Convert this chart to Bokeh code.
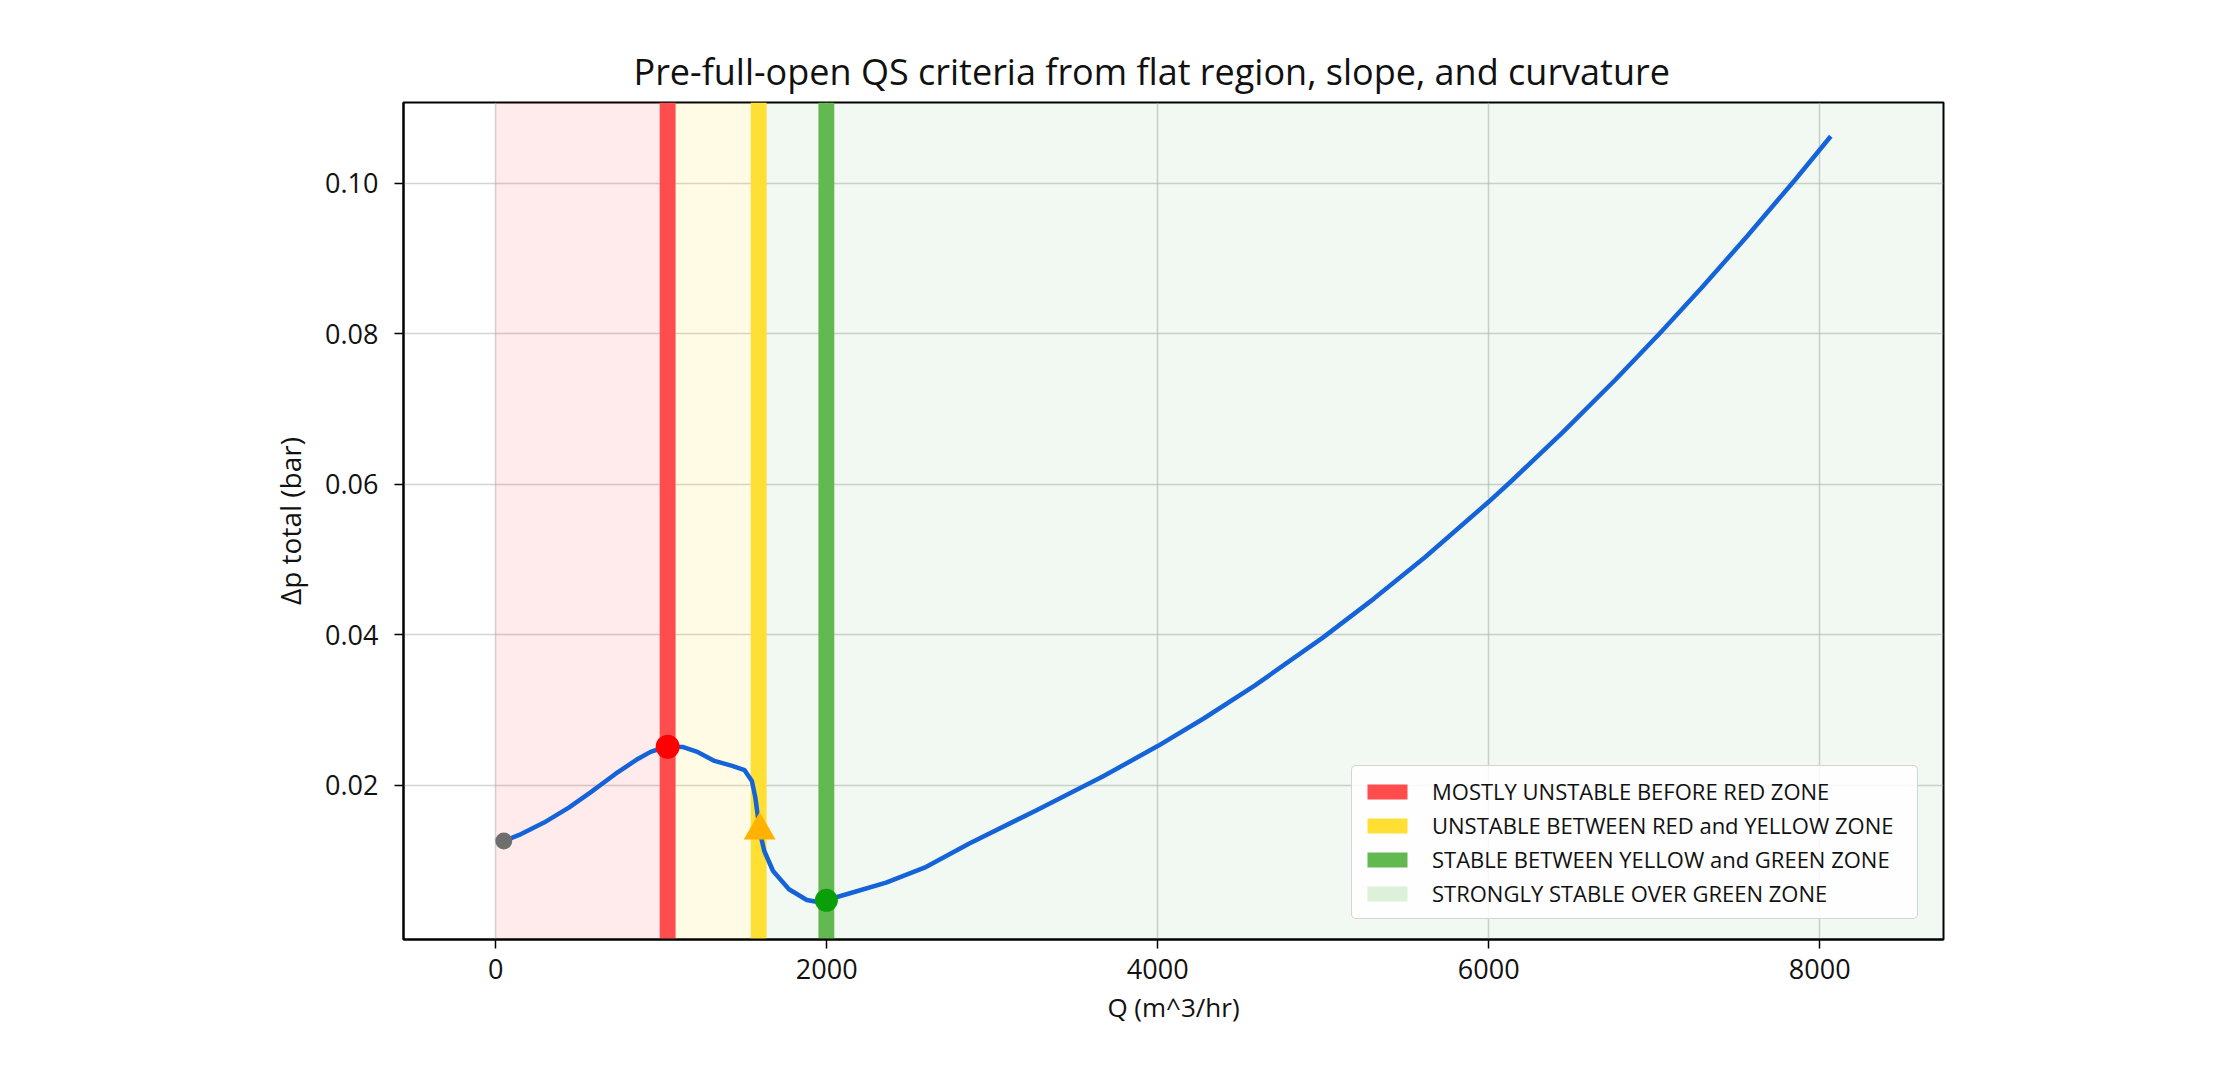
import numpy as np
from bokeh.plotting import figure
from bokeh.models import (Range1d, FixedTicker, PrintfTickFormatter, Legend,
                          LegendItem, BoxAnnotation)
from bokeh.embed import file_html
from bokeh.resources import INLINE

# ---------------- data ----------------
q_vals = [49, 142, 292, 442, 571, 721, 850, 936, 1034, 1129, 1214, 1322, 1429,
          1504, 1548, 1569, 1597, 1623, 1676, 1772, 1880, 1930, 1998, 2151,
          2359, 2591, 2862, 3265, 3668, 4000, 4278, 4586, 4998, 5307, 5615,
          6000, 6136, 6450, 6764, 7037, 7288, 7560, 7853, 8067]
dp_vals = [0.01259, 0.01339, 0.01503, 0.01702, 0.01902, 0.02146, 0.02337,
           0.02443, 0.02514, 0.02509, 0.02447, 0.02323, 0.02257, 0.02200,
           0.02057, 0.01835, 0.01370, 0.01126, 0.00860, 0.00617, 0.00475,
           0.00455, 0.00472, 0.00571, 0.00705, 0.00904, 0.01225, 0.01665,
           0.02115, 0.02520, 0.02886, 0.03323, 0.03961, 0.04479, 0.05029,
           0.05765, 0.06038, 0.06693, 0.07383, 0.08011, 0.08612, 0.09289,
           0.10048, 0.10622]

start_q, start_dp = [49], [0.0126]
red_q, red_dp = [1039], [0.0251]
yellow_q, yellow_dp = [1595], [0.0140]
green_q, green_dp = [1998], [0.0047]

zone_start = 0
band_centers = [1039, 1589, 1998]
band_half_width = 48

x_start, x_end = -557, 8748
y_start, y_end = -0.0005, 0.1107
x_ticks = [0, 2000, 4000, 6000, 8000]
y_ticks = [0.02, 0.04, 0.06, 0.08, 0.10]

legend_labels = ["MOSTLY UNSTABLE BEFORE RED ZONE",
                 "UNSTABLE BETWEEN RED and YELLOW ZONE",
                 "STABLE BETWEEN YELLOW and GREEN ZONE",
                 "STRONGLY STABLE OVER GREEN ZONE"]
band_colors = ["#ff4d4d", "#ffdf33", "#62b94f"]
strong_swatch_color = "#dcf0da"

title_text = "Pre-full-open QS criteria from flat region, slope, and curvature"
x_label = "Q (m^3/hr)"
y_label = "\u0394p total (bar)"

FONT = "Open Sans"

# ---------------- figure ----------------
p = figure(width=2220, height=1050,
           x_range=Range1d(x_start, x_end), y_range=Range1d(y_start, y_end),
           output_backend="svg", toolbar_location=None,
           min_border_left=403, min_border_right=277,
           min_border_top=102, min_border_bottom=111,
           title=title_text)
p.background_fill_color = "white"
p.border_fill_color = "white"
p.outline_line_color = "black"
p.outline_line_width = 2

p.title.text_font = FONT
p.title.text_font_size = "36px"
p.title.text_font_style = "normal"
p.title.align = "left"
p.title.offset = 230
p.title.text_color = "#111111"
p.title.standoff = 14

for ax in (p.xaxis[0], p.yaxis[0]):
    ax.axis_line_width = 2
    ax.axis_line_color = "black"
    ax.major_tick_line_width = 1.5
    ax.major_tick_line_color = "black"
    ax.major_tick_out = 9
    ax.major_tick_in = 0
    ax.minor_tick_line_color = None
    ax.major_label_text_font = FONT
    ax.major_label_text_font_size = "27px"
    ax.major_label_text_color = "#111111"
    ax.axis_label_text_font = FONT
    ax.axis_label_text_font_style = "normal"
    ax.axis_label_text_color = "#111111"

p.xaxis.axis_label_text_font_size = "26px"
p.yaxis.axis_label_text_font_size = "28px"
p.xaxis.ticker = FixedTicker(ticks=x_ticks)
p.yaxis.ticker = FixedTicker(ticks=y_ticks)
p.xaxis.formatter = PrintfTickFormatter(format="%d")
p.yaxis.formatter = PrintfTickFormatter(format="%.2f")
p.xaxis.axis_label = x_label
p.yaxis.axis_label = y_label
p.xaxis.major_label_standoff = 10
p.yaxis.major_label_standoff = 16
p.xaxis.axis_label_standoff = 7
p.yaxis.axis_label_standoff = 13

p.grid.grid_line_color = "#b0b0b0"
p.grid.grid_line_alpha = 0.55
p.grid.grid_line_width = 1.5

# ---------------- zones ----------------
p.add_layout(BoxAnnotation(left=zone_start, right=band_centers[0],
                           fill_color="red", fill_alpha=0.08, line_color=None,
                           level="underlay"))
p.add_layout(BoxAnnotation(left=band_centers[0], right=band_centers[1],
                           fill_color="#FFD700", fill_alpha=0.1, line_color=None,
                           level="underlay"))
p.add_layout(BoxAnnotation(left=band_centers[1],
                           fill_color="green", fill_alpha=0.05, line_color=None,
                           level="underlay"))

band_renderers = []
for c, col in zip(band_centers, band_colors):
    r = p.quad(left=[c - band_half_width], right=[c + band_half_width],
               bottom=[y_start], top=[y_end],
               fill_color=col, fill_alpha=1.0, line_color=None)
    band_renderers.append(r)

# legend-only handle for the strongly stable zone (no visible mark)
strong_handle = p.quad(left=[np.nan], right=[np.nan], bottom=[np.nan],
                       top=[np.nan], fill_color=strong_swatch_color,
                       line_color=None)

# ---------------- curve & markers ----------------
p.line(q_vals, dp_vals, line_color="#1463d8", line_width=4.5,
       line_join="round")
p.scatter(start_q, start_dp, marker="circle", size=17, fill_color="#6e6e6e",
          line_color=None)
p.scatter(red_q, red_dp, marker="circle", size=24, fill_color="#ff0000",
          line_color=None)
p.scatter(yellow_q, yellow_dp, marker="triangle", size=32, fill_color="#ffb300",
          line_color=None)
p.scatter(green_q, green_dp, marker="circle", size=23, fill_color="#0a9e0a",
          line_color=None)

# ---------------- legend ----------------
items = [LegendItem(label=lab, renderers=[r])
         for lab, r in zip(legend_labels, band_renderers + [strong_handle])]

legend = Legend(items=items, location=(948, 20))
legend.label_text_font = FONT
legend.label_text_font_size = "22px"
legend.label_text_color = "#111111"
legend.glyph_width = 50
legend.glyph_height = 19
legend.label_height = 26
legend.label_width = 475
legend.label_standoff = 20
legend.spacing = 4
legend.padding = 10
legend.margin = 0
legend.border_line_color = "#aaaaaa"
legend.border_line_width = 1.5
legend.border_radius = 5
legend.background_fill_color = "white"
legend.background_fill_alpha = 0.85
p.add_layout(legend)

open("out.html", "w").write(file_html(p, INLINE))
